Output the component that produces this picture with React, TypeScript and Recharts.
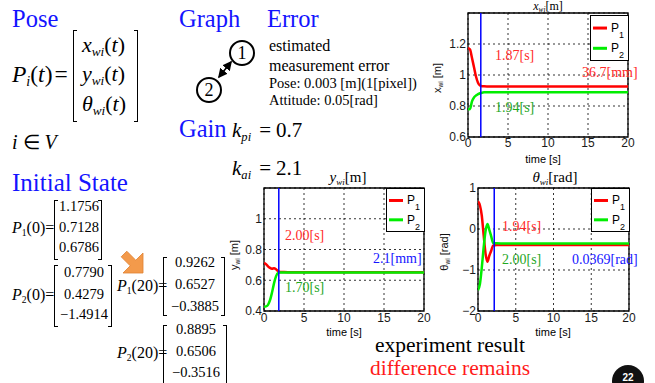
import React from 'react';
import { LineChart, Line, XAxis, YAxis, CartesianGrid, ReferenceLine, ReferenceArea } from 'recharts';

// ---------- data ----------
const time = [0, 0.25, 0.5, 0.75, 1, 1.25, 1.5, 1.75, 2, 2.5, 3, 5, 10, 15, 20];
const timeTicks = [0, 5, 10, 15, 20];

const xP1 = [1.1756, 1.165, 1.11, 1.05, 0.99, 0.95, 0.932, 0.928, 0.927, 0.9265, 0.9262, 0.9262, 0.9262, 0.9262, 0.9262];
const xP2 = [0.779, 0.781, 0.83, 0.855, 0.868, 0.876, 0.882, 0.886, 0.888, 0.889, 0.8895, 0.8895, 0.8895, 0.8895, 0.8895];
const yP1 = [0.7128, 0.705, 0.69, 0.68, 0.675, 0.678, 0.672, 0.66, 0.654, 0.653, 0.6527, 0.6527, 0.6527, 0.6527, 0.6527];
const yP2 = [0.4279, 0.43, 0.44, 0.47, 0.52, 0.58, 0.625, 0.648, 0.65, 0.6505, 0.6506, 0.6506, 0.6506, 0.6506, 0.6506];
const thP1 = [0.6786, 0.58, 0.33, -0.15, -0.6, -0.8, -0.65, -0.53, -0.4, -0.39, -0.3885, -0.3885, -0.3885, -0.3885, -0.3885];
const thP2 = [-1.4914, -1.35, -0.95, -0.45, -0.05, 0.12, -0.02, -0.18, -0.34, -0.35, -0.3516, -0.3516, -0.3516, -0.3516, -0.3516];

const xTicks = [0.6, 0.8, 1, 1.2];
const yTicks = [0.4, 0.6, 0.8, 1];
const thTicks = [-2, -1, 0, 1];

const xMarker = 1.6;
const yMarker = 1.85;
const thMarker = 2.15;

const build = (a: number[], b: number[]) => time.map((t, i) => ({ t, p1: a[i], p2: b[i] }));
const xData = build(xP1, xP2);
const yData = build(yP1, yP2);
const thData = build(thP1, thP2);

const P1_init = ['1.1756', '0.7128', '0.6786'];
const P2_init = ['0.7790', '0.4279', '\u22121.4914'];
const P1_final = ['0.9262', '0.6527', '\u22120.3885'];
const P2_final = ['0.8895', '0.6506', '\u22120.3516'];

// ---------- styles ----------
const SERIF = '"Liberation Serif", "Times New Roman", serif';
const SANS = '"Liberation Sans", Arial, sans-serif';
const BLUE = '#1414ff';
const RED = '#ff2a2a';
const GREEN = '#1fa81f';

type TxtProps = {
  x: number; b: number; size: number; color?: string; family?: string; italic?: boolean;
  anchor?: 'start' | 'middle' | 'end'; children: React.ReactNode; weight?: number; tight?: boolean;
};
const Txt = ({ x, b, size, color = '#000', family = SERIF, italic = false, anchor = 'start', children, weight, tight }: TxtProps) => {
  const tr = anchor === 'middle' ? 'translateX(-50%)' : anchor === 'end' ? 'translateX(-100%)' : undefined;
  const lh = tight ? size : size * 1.2;
  const top = tight ? b - 0.8375 * size : b - 0.94 * size;
  return (
    <div
      style={{
        position: 'absolute', left: x, top, fontSize: size, lineHeight: `${lh}px`,
        fontFamily: family, color, whiteSpace: 'nowrap', fontStyle: italic ? 'italic' : 'normal', transform: tr,
        fontWeight: weight,
      }}
    >
      {children}
    </div>
  );
};

const Sub = ({ children, italic = true }: { children: React.ReactNode; italic?: boolean }) => (
  <span style={{ fontSize: '0.6em', verticalAlign: '-0.3em', fontStyle: italic ? 'italic' : 'normal', lineHeight: 1 }}>{children}</span>
);
const I = ({ children }: { children: React.ReactNode }) => <span style={{ fontStyle: 'italic' }}>{children}</span>;

const Bracket = ({ x1, x2, y1, y2 }: { x1: number; x2: number; y1: number; y2: number }) => (
  <>
    <div style={{ position: 'absolute', left: x1, top: y1, width: 4, height: y2 - y1, borderLeft: '1px solid #000', borderTop: '1px solid #000', borderBottom: '1px solid #000', boxSizing: 'border-box' }} />
    <div style={{ position: 'absolute', left: x2 - 4, top: y1, width: 4, height: y2 - y1, borderRight: '1px solid #000', borderTop: '1px solid #000', borderBottom: '1px solid #000', boxSizing: 'border-box' }} />
  </>
);

const Matrix = ({ x1, x2, y1, y2, rows, baselines, size }: { x1: number; x2: number; y1: number; y2: number; rows: string[]; baselines: number[]; size: number }) => (
  <>
    <Bracket x1={x1} x2={x2} y1={y1} y2={y2} />
    {rows.map((r, i) => (
      <Txt key={i} x={(x1 + x2) / 2 + 1} b={baselines[i]} size={size} anchor="middle">{r}</Txt>
    ))}
  </>
);

const LegendBox = ({ x, y, h }: { x: number; y: number; h: number }) => (
  <svg style={{ position: 'absolute', left: x, top: y }} width={39} height={h + 1}>
    <rect x={0.5} y={0.5} width={38} height={h} fill="#fff" stroke="#000" strokeWidth={1} />
    <line x1={3} x2={17} y1={h * 0.29} y2={h * 0.29} stroke="#ff0000" strokeWidth={3} />
    <text x={21} y={h * 0.29 + 4} fontFamily={SANS} fontSize={12}>P</text>
    <text x={29} y={h * 0.29 + 10} fontFamily={SANS} fontSize={9}>1</text>
    <line x1={3} x2={17} y1={h * 0.74} y2={h * 0.74} stroke="#00ee00" strokeWidth={3} />
    <text x={21} y={h * 0.74 + 4} fontFamily={SANS} fontSize={12}>P</text>
    <text x={29} y={h * 0.74 + 10} fontFamily={SANS} fontSize={9}>2</text>
  </svg>
);

const Rot = ({ cx, cy, size, children }: { cx: number; cy: number; size: number; children: React.ReactNode }) => (
  <div style={{ position: 'absolute', left: cx, top: cy, transform: 'translate(-50%,-50%) rotate(-90deg)', fontFamily: SANS, fontSize: size, whiteSpace: 'nowrap', lineHeight: `${size * 1.2}px`, color: '#111' }}>
    {children}
  </div>
);

const fmt = (v: number) => String(v).replace('-', '\u2212');
const tickStyle = { fontFamily: SANS, fontSize: 12, fill: '#1a1a1a' };

type PanelProps = {
  left: number; top: number; width: number; height: number;
  margin: { top: number; right: number; bottom: number; left: number };
  yWidth: number; xHeight: number; xTickMargin: number;
  data: { t: number; p1: number; p2: number }[];
  yDomain: [number, number]; yTicks: number[]; marker: number;
};

function Panel(p: PanelProps) {
  return (
    <div style={{ position: 'absolute', left: p.left, top: p.top }}>
      <LineChart width={p.width} height={p.height} data={p.data} margin={p.margin}>
        <CartesianGrid strokeDasharray="2 3" stroke="#000" strokeWidth={0.8} />
        <XAxis type="number" dataKey="t" domain={[0, 20]} ticks={timeTicks} interval={0} axisLine={false} tickLine={false}
          tickSize={0} tickMargin={p.xTickMargin} height={p.xHeight} tick={tickStyle} allowDataOverflow />
        <YAxis type="number" domain={p.yDomain} ticks={p.yTicks} interval={0} axisLine={false} tickLine={false}
          tickSize={0} tickMargin={2} width={p.yWidth} tick={tickStyle} tickFormatter={fmt} allowDataOverflow />
        <Line dataKey="p1" type="monotone" stroke="#ff0000" strokeWidth={2.5} dot={false} isAnimationActive={false} />
        <Line dataKey="p2" type="monotone" stroke="#00ee00" strokeWidth={2.5} dot={false} isAnimationActive={false} />
        <ReferenceLine x={p.marker} stroke="#0000ff" strokeWidth={1.5} />
        <ReferenceArea x1={0} x2={20} y1={p.yDomain[0]} y2={p.yDomain[1]} fill="none" stroke="#000" strokeWidth={1.3} />
      </LineChart>
    </div>
  );
}

export default function App() {
  return (
    <div style={{ position: 'absolute', left: 0, top: 0, width: 655, height: 383, overflow: 'hidden', background: '#fff', fontFamily: SERIF }}>
      {/* charts */}
      <Panel left={440} top={0} width={215} height={170} margin={{ top: 13, right: 27, bottom: 0, left: 0 }}
        yWidth={28} xHeight={33} xTickMargin={1} data={xData} yDomain={[0.6, 1.4]} yTicks={xTicks} marker={xMarker} />
      <Panel left={220} top={165} width={220} height={180} margin={{ top: 23, right: 16, bottom: 0, left: 0 }}
        yWidth={44} xHeight={34} xTickMargin={2} data={yData} yDomain={[0.4, 1.2]} yTicks={yTicks} marker={yMarker} />
      <Panel left={430} top={165} width={225} height={180} margin={{ top: 23, right: 26, bottom: 0, left: 0 }}
        yWidth={48} xHeight={34} xTickMargin={2} data={thData} yDomain={[-2, 1]} yTicks={thTicks} marker={thMarker} />

      {/* chart titles and axis labels */}
      <Txt x={548} b={10.5} size={12} anchor="middle" tight><I>x</I><Sub>wi</Sub>[m]</Txt>
      <Txt x={348} b={182} size={15} anchor="middle"><I>y</I><Sub>wi</Sub>[m]</Txt>
      <Txt x={555} b={182} size={15} anchor="middle"><I>θ</I><Sub>wi</Sub>[rad]</Txt>
      <Txt x={543} b={163} size={11} family={SANS} anchor="middle">time [s]</Txt>
      <Txt x={344} b={336} size={11} family={SANS} anchor="middle">time [s]</Txt>
      <Txt x={553} b={336} size={11} family={SANS} anchor="middle">time [s]</Txt>
      <Rot cx={438} cy={78} size={11}>x<Sub italic={false}>wi</Sub> [m]</Rot>
      <Rot cx={235} cy={255} size={11}>y<Sub italic={false}>wi</Sub> [m]</Rot>
      <Rot cx={445} cy={252} size={11}>θ<Sub italic={false}>wi</Sub> [rad]</Rot>

      <LegendBox x={590} y={15} h={45} />
      <LegendBox x={386} y={188} h={43} />
      <LegendBox x={591} y={188} h={43} />

      {/* annotations */}
      <Txt x={495} b={61} size={14} color={RED}>1.87[s]</Txt>
      <Txt x={582} b={78} size={14} color={RED}>36.7[mm]</Txt>
      <Txt x={495} b={113} size={14} color={GREEN}>1.94[s]</Txt>
      <Txt x={285} b={241} size={14} color={RED}>2.00[s]</Txt>
      <Txt x={373} b={264} size={14} color={BLUE}>2.1[mm]</Txt>
      <Txt x={285} b={293} size={14} color={GREEN}>1.70[s]</Txt>
      <Txt x={502} b={232} size={14} color={RED}>1.94[s]</Txt>
      <Txt x={502} b={265} size={14} color={GREEN}>2.00[s]</Txt>
      <Txt x={572} b={265} size={14} color={BLUE}>0.0369[rad]</Txt>

      {/* Pose */}
      <Txt x={12} b={27} size={24.5} color={BLUE}>Pose</Txt>
      <Txt x={12} b={82} size={23.5}><I>P</I><Sub>i</Sub>(<I>t</I>)<span style={{ marginLeft: 2 }}>=</span></Txt>
      <Bracket x1={73} x2={138} y1={30} y2={122} />
      <Txt x={82} b={53} size={22}><I>x</I><Sub>wi</Sub>(<I>t</I>)</Txt>
      <Txt x={82} b={82} size={22}><I>y</I><Sub>wi</Sub>(<I>t</I>)</Txt>
      <Txt x={82} b={112} size={22}><I>θ</I><Sub>wi</Sub>(<I>t</I>)</Txt>
      <Txt x={12} b={149} size={20}><I>i</I> ∈ <I>V</I></Txt>

      {/* Graph / Error */}
      <Txt x={179} b={27} size={24.5} color={BLUE}>Graph</Txt>
      <Txt x={267} b={27} size={24.5} color={BLUE}>Error</Txt>
      <svg style={{ position: 'absolute', left: 190, top: 36 }} width={70} height={72}>
        <defs>
          <marker id="ah" markerWidth="6" markerHeight="6" refX="5" refY="3" orient="auto-start-reverse">
            <path d="M0,0 L6,3 L0,6 Z" fill="#000" />
          </marker>
        </defs>
        <circle cx={52} cy={17} r={12} fill="#fff" stroke="#000" strokeWidth={2} />
        <circle cx={19} cy={54} r={12} fill="#fff" stroke="#000" strokeWidth={2} />
        <text x={52} y={23} textAnchor="middle" fontFamily={SERIF} fontSize={18}>1</text>
        <text x={19} y={60} textAnchor="middle" fontFamily={SERIF} fontSize={18}>2</text>
        <line x1={41} y1={26} x2={29} y2={41} stroke="#000" strokeWidth={1.6} markerStart="url(#ah)" markerEnd="url(#ah)" />
      </svg>
      <Txt x={269} b={51} size={16}>estimated</Txt>
      <Txt x={269} b={71} size={16}>measurement error</Txt>
      <Txt x={269} b={89} size={14.5}>Pose: 0.003 [m](1[pixel])</Txt>
      <Txt x={269} b={106} size={14.5}>Attitude: 0.05[rad]</Txt>

      {/* Gain */}
      <Txt x={179} b={137} size={24.5} color={BLUE}>Gain</Txt>
      <Txt x={232} b={138} size={21}><I>k</I><Sub>pi</Sub><span style={{ marginLeft: 8, marginRight: 5 }}>=</span>0.7</Txt>
      <Txt x={232} b={176} size={21}><I>k</I><Sub>ai</Sub><span style={{ marginLeft: 8, marginRight: 5 }}>=</span>2.1</Txt>

      {/* Initial state */}
      <Txt x={12} b={191} size={25} color={BLUE}>Initial State</Txt>
      <Txt x={12} b={233} size={16}><I>P</I><Sub italic={false}>1</Sub>(0)=</Txt>
      <Matrix x1={54} x2={102} y1={200} y2={260} rows={P1_init} baselines={[212, 233, 253]} size={14.5} />
      <Txt x={12} b={300} size={16}><I>P</I><Sub italic={false}>2</Sub>(0)=</Txt>
      <Matrix x1={54} x2={112} y1={265} y2={327} rows={P2_init} baselines={[278, 300, 320]} size={14.5} />

      <svg style={{ position: 'absolute', left: 118, top: 250 }} width={27} height={25}>
        <polygon points="25,3 17.8,10.2 8.8,1.2 3.2,6.8 12.2,15.8 5,23 25,23" fill="#f39a4b" stroke="#e08030" strokeWidth={0.8} />
      </svg>

      <Txt x={117} b={291} size={16}><I>P</I><Sub italic={false}>1</Sub>(20)=</Txt>
      <Matrix x1={163} x2={225} y1={257} y2={316} rows={P1_final} baselines={[268, 290, 312]} size={14.5} />
      <Txt x={117} b={358} size={16}><I>P</I><Sub italic={false}>2</Sub>(20)=</Txt>
      <Matrix x1={163} x2={227} y1={325} y2={384} rows={P2_final} baselines={[335, 357, 378]} size={14.5} />

      {/* bottom text */}
      <Txt x={375} b={353} size={21.5}>experiment result</Txt>
      <Txt x={370} b={376} size={21.5} color="#ff1a1a">difference remains</Txt>

      <svg style={{ position: 'absolute', left: 610, top: 363 }} width={40} height={20}>
        <circle cx={18} cy={18} r={16} fill="#111" />
        <text x={18} y={18} textAnchor="middle" fontFamily={SANS} fontWeight={700} fontSize={10} fill="#fff">22</text>
      </svg>
    </div>
  );
}
